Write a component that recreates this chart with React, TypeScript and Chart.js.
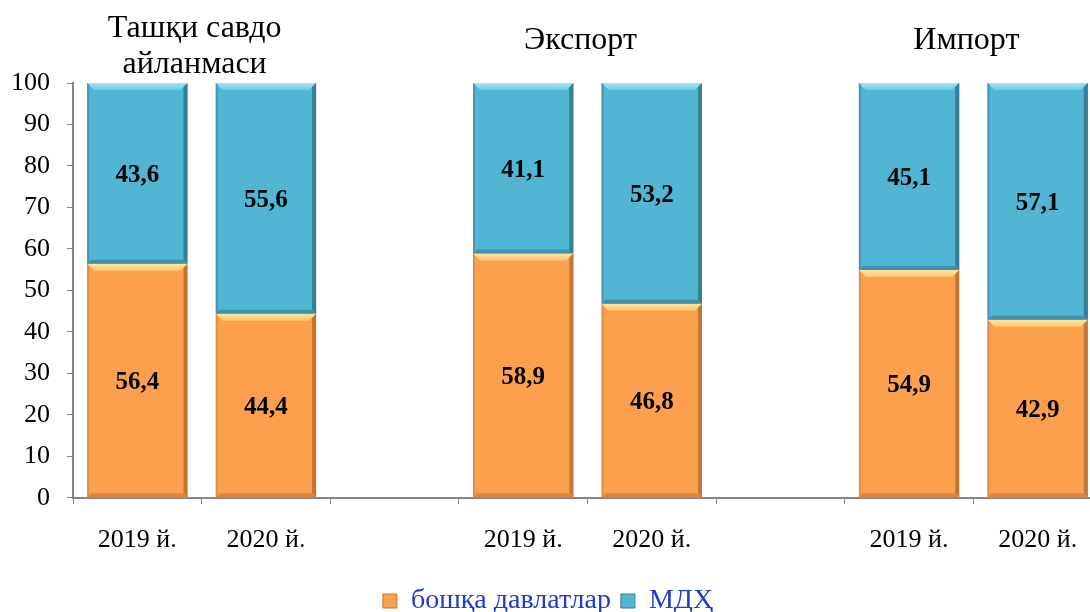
import React, { useEffect, useRef } from "react";
import { Chart, registerables } from "chart.js";

Chart.register(...registerables);

const categories = ["2019 й.", "2020 й.", "", "2019 й.", "2020 й.", "", "2019 й.", "2020 й."];
const otherCountries = [56.4, 44.4, null, 58.9, 46.8, null, 54.9, 42.9];
const cisCountries = [43.6, 55.6, null, 41.1, 53.2, null, 45.1, 57.1];
const seriesNames = ["бошқа давлатлар", "МДҲ"];
const groupTitles = [["Ташқи савдо", "айланмаси"], ["Экспорт"], ["Импорт"]];
const groupCenters = [0.5, 3.5, 6.5];
const yTicks = [0, 10, 20, 30, 40, 50, 60, 70, 80, 90, 100];

const SERIF = "'Liberation Serif', 'Times New Roman', serif";

const bevelStyles = [
  { lightTop: "#FFE7A0", lightBot: "#FFC272", dark: "#C47733", bottom: "#D98843", left: "#E58D45" },
  { lightTop: "#A2E6F7", lightBot: "#6FC8E2", dark: "#327F96", bottom: "#3E92AB", left: "#4298B2" },
];

const bevelPlugin = {
  id: "bevel",
  afterDatasetsDraw(chart: any) {
    const ctx = chart.ctx;
    chart.data.datasets.forEach((ds: any, di: number) => {
      const meta = chart.getDatasetMeta(di);
      const st = bevelStyles[di];
      meta.data.forEach((bar: any, i: number) => {
        if (ds.data[i] == null) return;
        const p = bar.getProps(["x", "y", "base", "width"], true);
        const l = p.x - p.width / 2;
        const r = p.x + p.width / 2;
        const t = Math.min(p.y, p.base);
        const b = Math.max(p.y, p.base);
        const bw = 7;
        ctx.save();
        const g = ctx.createLinearGradient(0, t, 0, t + bw);
        g.addColorStop(0, st.lightTop);
        g.addColorStop(1, st.lightBot);
        ctx.fillStyle = g;
        ctx.beginPath();
        ctx.moveTo(l, t);
        ctx.lineTo(r, t);
        ctx.lineTo(r - bw, t + bw);
        ctx.lineTo(l + bw, t + bw);
        ctx.closePath();
        ctx.fill();
        ctx.fillStyle = st.left;
        ctx.beginPath();
        ctx.moveTo(l, t);
        ctx.lineTo(l + 2, t + 2);
        ctx.lineTo(l + 2, b - 2);
        ctx.lineTo(l, b);
        ctx.closePath();
        ctx.fill();
        ctx.fillStyle = st.dark;
        ctx.beginPath();
        ctx.moveTo(r, t);
        ctx.lineTo(r, b);
        ctx.lineTo(r - 4, b - 4);
        ctx.lineTo(r - 4, t + 4);
        ctx.closePath();
        ctx.fill();
        ctx.fillStyle = st.bottom;
        ctx.beginPath();
        ctx.moveTo(l, b);
        ctx.lineTo(r, b);
        ctx.lineTo(r - 4, b - 4);
        ctx.lineTo(l + 4, b - 4);
        ctx.closePath();
        ctx.fill();
        ctx.restore();
      });
    });
  },
};

const labelsPlugin = {
  id: "valueLabels",
  afterDraw(chart: any) {
    const ctx = chart.ctx;
    ctx.save();
    ctx.fillStyle = "#000";
    ctx.font = `bold 25px ${SERIF}`;
    ctx.textAlign = "center";
    ctx.textBaseline = "middle";
    chart.data.datasets.forEach((ds: any, di: number) => {
      const meta = chart.getDatasetMeta(di);
      meta.data.forEach((bar: any, i: number) => {
        const v = ds.data[i];
        if (v == null) return;
        const p = bar.getProps(["x", "y", "base"], true);
        ctx.fillText(v.toFixed(1).replace(".", ","), p.x, (p.y + p.base) / 2 + 2);
      });
    });
    const xs = chart.scales.x;
    ctx.font = `32px ${SERIF}`;
    groupTitles.forEach((lines, gi) => {
      const cx = xs.getPixelForValue(groupCenters[gi]) - 7;
      if (lines.length === 2) {
        ctx.fillText(lines[0], cx, 29);
        ctx.fillText(lines[1], cx, 65);
      } else {
        ctx.fillText(lines[0], cx, 41);
      }
    });
    ctx.restore();
  },
};

export default function App() {
  const ref = useRef<HTMLCanvasElement>(null);
  useEffect(() => {
    if (!ref.current) return;
    const chart = new Chart(ref.current, {
      type: "bar",
      data: {
        labels: categories,
        datasets: [
          {
            label: seriesNames[0],
            data: otherCountries,
            backgroundColor: "#FDA04E",
            borderWidth: 0,
            barPercentage: 0.78,
            categoryPercentage: 1,
          },
          {
            label: seriesNames[1],
            data: cisCountries,
            backgroundColor: "#50B6D3",
            borderWidth: 0,
            barPercentage: 0.78,
            categoryPercentage: 1,
          },
        ],
      },
      options: {
        responsive: false,
        animation: false,
        layout: { padding: { top: 83, left: -6, right: 18, bottom: -13 } },
        plugins: {
          tooltip: { enabled: false },
          legend: {
            position: "bottom",
            labels: {
              color: "#1F3CC8",
              font: { family: SERIF, size: 28 },
              boxWidth: 14,
              boxHeight: 14,
              padding: 10,
              generateLabels: (c: any) =>
                c.data.datasets.map((ds: any, i: number) => ({
                  text: ds.label,
                  fillStyle: ds.backgroundColor,
                  strokeStyle: bevelStyles[i].dark,
                  lineWidth: 1,
                  fontColor: "#1F3CC8",
                  datasetIndex: i,
                })),
            },
          },
        },
        scales: {
          x: {
            stacked: true,
            offset: true,
            grid: {
              offset: true,
              drawOnChartArea: false,
              drawTicks: true,
              tickLength: 6,
              color: "#868686",
            },
            border: { color: "#868686", width: 2 },
            ticks: {
              color: "#000",
              font: { family: SERIF, size: 26 },
              padding: 21,
              maxRotation: 0,
              autoSkip: false,
            },
          },
          y: {
            stacked: true,
            min: 0,
            max: 100,
            afterBuildTicks: (s: any) => {
              s.ticks = yTicks.map((v) => ({ value: v }));
            },
            grid: {
              drawOnChartArea: false,
              drawTicks: true,
              tickLength: 6,
              color: "#868686",
            },
            border: { color: "#868686", width: 2 },
            ticks: {
              color: "#000",
              font: { family: SERIF, size: 26 },
              padding: 17,
            },
          },
        },
      },
      plugins: [bevelPlugin, labelsPlugin],
    });
    return () => chart.destroy();
  }, []);
  return (
    <div
      style={{
        position: "fixed",
        left: 0,
        top: 0,
        width: 1090,
        height: 612,
        overflow: "hidden",
        background: "#fff",
      }}
    >
      <canvas ref={ref} width={1120} height={612} />
    </div>
  );
}
